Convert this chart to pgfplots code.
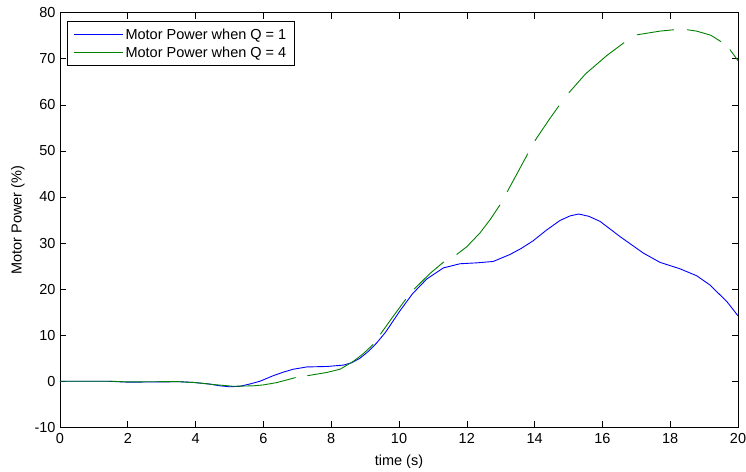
\documentclass[border=0pt]{standalone}
\usepackage{pgfplots}
\pgfplotsset{compat=1.18}
\usepackage{fontspec}
\setmainfont{Liberation Sans}
\definecolor{mblue}{RGB}{0,0,255}
\definecolor{mgreen}{RGB}{0,128,0}
\begin{document}
\begin{tikzpicture}
\begin{axis}[
  scale only axis,
  width=678bp, height=414.6bp,
  xmin=0, xmax=20, ymin=-10, ymax=80,
  xtick={0,2,...,20}, ytick={-10,0,...,80},
  tick align=inside,
  major tick length=6bp,
  tick style={black, line width=0.6bp},
  axis line style={black, line width=0.8bp},
  /pgf/number format/assume math mode=true,
  font=\fontsize{14.5bp}{17bp}\selectfont,
  ticklabel style={font=\fontsize{14.5bp}{17bp}\selectfont},
  xticklabel style={yshift=-3bp},
  yticklabel style={xshift=-1bp},
  xlabel={time (s)},
  ylabel={Motor Power (\%)},
  xlabel style={at={(axis description cs:0.5,-0.084)}, anchor=center},
  ylabel style={at={(axis description cs:-0.062,0.5)}, anchor=center, rotate=0},
  unbounded coords=jump,
  legend cell align=left,
  legend style={at={(axis description cs:0.0108,0.979)}, anchor=north west,
    draw=black, line width=0.6bp, fill=white, inner xsep=6bp, inner ysep=5bp,
    row sep=2bp, font=\fontsize{14.5bp}{17bp}\selectfont},
  legend image code/.code={\draw[#1] (0bp,0bp) -- (46bp,0bp); \path (0bp,0bp) -- (49bp,0bp);},
]
\addplot[draw=mblue, line width=0.9bp] table {
x y
0 0
1.4 0
2 -0.2
3 -0.15
3.5 -0.1
3.93 -0.26
4.4 -0.6
4.72 -1.0
5.0 -1.2
5.31 -1.1
5.6 -0.6
5.9 0.0
6.29 1.2
6.6 2.0
6.88 2.6
7.28 3.1
7.87 3.2
8.36 3.5
8.6 4.0
8.85 5.0
9.1 6.5
9.34 8.3
9.6 10.6
10.03 15.3
10.4 19.0
10.82 22.2
11.31 24.6
11.8 25.5
12.3 25.7
12.78 26.0
13.27 27.5
13.6 28.8
13.96 30.5
14.35 32.8
14.75 34.9
15.05 35.9
15.3 36.3
15.6 35.8
15.93 34.7
16.52 31.4
17.21 27.8
17.7 25.8
18.29 24.4
18.78 22.9
19.17 20.9
19.67 17.3
20 14.2
};
\addlegendentry{Motor Power when Q = 1}
\addplot[draw=mgreen, line width=0.9bp] table {
x y
0 0
1.5 0
2 -0.15
3 -0.1
3.5 -0.1
4 -0.3
4.5 -0.7
5.11 -1.1
5.7 -1.0
6.0 -0.8
6.39 -0.3
6.7 0.3
6.95 0.8
6.96 nan
7.3 1.2
7.87 1.9
8.26 2.6
8.65 4.3
8.95 6.0
9.24 8.0
9.25 nan
9.45 10.2
9.8 13.8
10.2 17.8
10.21 nan
10.45 20.0
10.9 23.3
11.32 25.9
11.33 nan
11.7 27.5
12.0 29.2
12.39 32.2
12.7 35.2
12.98 38.3
12.99 nan
13.19 41.1
13.5 45.3
13.8 49.4
13.81 nan
14.01 52.2
14.4 56.5
14.72 59.8
14.73 nan
15.01 62.6
15.5 66.7
16.13 70.7
16.64 73.5
16.65 nan
17.02 75.2
17.7 76.0
18.11 76.3
18.12 nan
18.5 76.3
18.78 76.0
19.2 75.1
19.5 73.7
19.51 nan
19.76 72.0
20 69.6
};
\addlegendentry{Motor Power when Q = 4}
\end{axis}
\pgfresetboundingbox
\path (current axis.south west) ++(-60bp,-44.7bp) rectangle ([xshift=8bp,yshift=12.7bp]current axis.north east);
\end{tikzpicture}
\end{document}
